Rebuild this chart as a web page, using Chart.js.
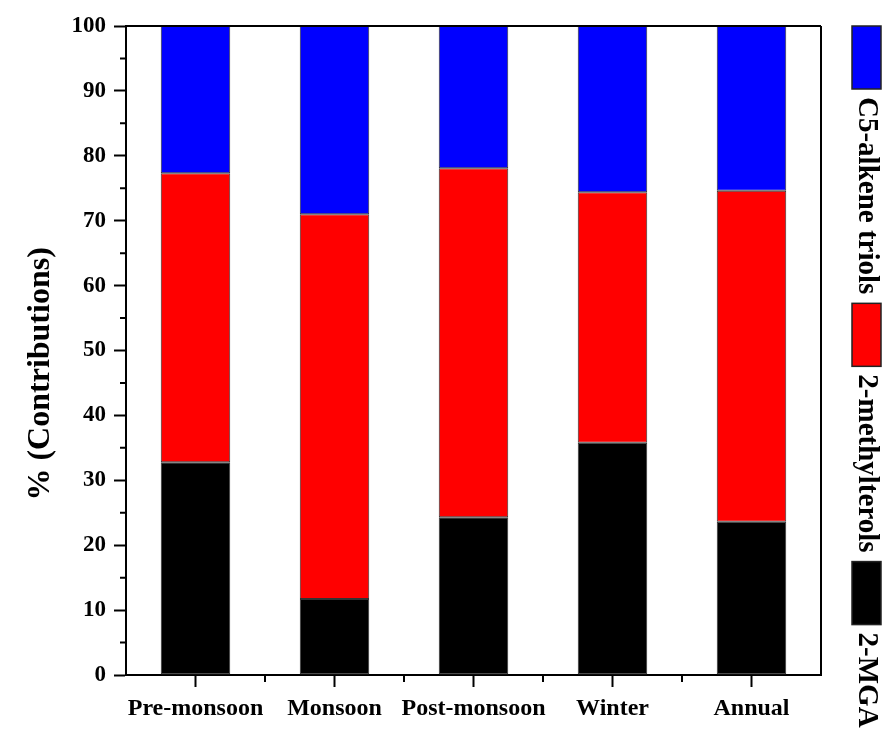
<!DOCTYPE html>
<html>
<head>
<meta charset="utf-8">
<script src="https://cdn.jsdelivr.net/npm/chart.js@4.4.1/dist/chart.umd.min.js"></script>
<style>
  html, body { margin: 0; padding: 0; background: #fff; }
  #wrap { width: 894px; height: 731px; }
</style>
</head>
<body>
<div id="wrap"><canvas id="seasonChart" width="894" height="731"></canvas></div>
<script>
// seasons on the x axis
const seasons = ["Pre-monsoon", "Monsoon", "Post-monsoon", "Winter", "Annual"];

// % contribution of each tracer (stacked bottom -> top)
const mgaValues = [32.8, 11.7, 24.3, 35.8, 23.6];
const methylterolValues = [44.5, 59.3, 53.8, 38.6, 51.0];
const alkeneTriolValues = [22.7, 29.0, 21.9, 25.6, 25.4];

// y tick labels
const yTicks = [0, 10, 20, 30, 40, 50, 60, 70, 80, 90, 100];
const yTitle = "% (Contributions)";

const serif = "'Liberation Serif', 'Times New Roman', serif";

/* ------------------------------------------- helpers plugin ------------------------------------------- */

// minor ticks, top/right frame, y title and a rotated legend on the right side
const framePlugin = {
    id: "frameAndLegend",
    afterDraw (chart) {
        const ctx = chart.ctx;
        const area = chart.chartArea;
        const x = chart.scales.x, y = chart.scales.y;
        ctx.save();
        ctx.strokeStyle = "#000";
        ctx.lineWidth = 2;
        // frame top and right
        ctx.beginPath();
        ctx.moveTo(area.left, area.top); ctx.lineTo(area.right, area.top);
        ctx.moveTo(area.right, area.top); ctx.lineTo(area.right, area.bottom);
        ctx.stroke();
        // minor y ticks at the 5's
        ctx.beginPath();
        for (let v = 5; v < 100; v += 10) {
            const py = y.getPixelForValue(v);
            ctx.moveTo(area.left, py); ctx.lineTo(area.left - 6, py); }
        // minor x ticks between categories
        for (let i = 0; i < seasons.length - 1; i++) {
            const px = (x.getPixelForValue(i) + x.getPixelForValue(i + 1)) / 2;
            ctx.moveTo(px, area.bottom); ctx.lineTo(px, area.bottom + 7); }
        ctx.stroke();

        // y axis title, sits a bit below the middle like the original
        ctx.save();
        ctx.translate(41, y.getPixelForValue(46.4));
        ctx.rotate(-Math.PI / 2);
        ctx.font = "bold 32px " + serif;
        ctx.fillStyle = "#000";
        ctx.textAlign = "center";
        ctx.textBaseline = "middle";
        ctx.fillText(yTitle, 0, 0);
        ctx.restore();

        // legend, top to bottom: last dataset first
        const items = chart.data.datasets.slice().reverse();
        const boxX = 852, boxW = 29, boxH = 63;
        let cy = 26;
        ctx.font = "bold 29px " + serif;
        ctx.textBaseline = "middle";
        ctx.textAlign = "left";
        for (const ds of items) {
            ctx.fillStyle = ds.backgroundColor;
            ctx.fillRect(boxX, cy, boxW, boxH);
            ctx.lineWidth = 1.5;
            ctx.strokeStyle = "#222";
            ctx.strokeRect(boxX, cy, boxW, boxH);
            cy += boxH + 8;
            ctx.save();
            ctx.translate(boxX + boxW / 2, cy);
            ctx.rotate(Math.PI / 2);
            ctx.fillStyle = "#000";
            ctx.fillText(ds.label, 0, 0);
            ctx.restore();
            cy += ctx.measureText(ds.label).width + 9; }
        ctx.restore(); }
};

/* ------------------------------------------- chart ------------------------------------------- */

const seasonChart = new Chart("seasonChart", {
    type: "bar",
    data: {
        labels: seasons,
        datasets: [
            { label: "2-MGA", data: mgaValues, backgroundColor: "#000000" },
            { label: "2-methylterols", data: methylterolValues, backgroundColor: "#ff0000" },
            { label: "C5-alkene triols", data: alkeneTriolValues, backgroundColor: "#0000ff" }
        ]
    },
    options: {
        responsive: false,
        animation: false,
        layout: { padding: { left: 0, right: 73, top: 26, bottom: 0 } },
        datasets: { bar: {
            categoryPercentage: 1.0, barPercentage: 0.5,
            borderWidth: 1, borderColor: "#333", borderSkipped: false } },
        plugins: { legend: { display: false }, tooltip: { enabled: false } },
        scales: {
            x: {
                stacked: true,
                grid: { offset: false, drawOnChartArea: false, drawTicks: true,
                        tickLength: 12, tickWidth: 2, tickColor: "#000" },
                border: { display: true, color: "#000", width: 2 },
                ticks: { color: "#000", padding: 7, maxRotation: 0, autoSkip: false,
                         font: { family: serif, size: 24, weight: "bold" } },
                afterFit (scale) { scale.height = 56; }
            },
            y: {
                stacked: true,
                min: 0, max: 100,
                afterBuildTicks (scale) { scale.ticks = yTicks.map(v => ({ value: v })); },
                grid: { drawOnChartArea: false, drawTicks: true,
                        tickLength: 12, tickWidth: 2, tickColor: "#000" },
                border: { display: true, color: "#000", width: 2 },
                ticks: { color: "#000", padding: 8,
                         font: { family: serif, size: 23, weight: "bold" } },
                afterFit (scale) { scale.width = 126; }
            }
        }
    },
    plugins: [framePlugin]
});
</script>
</body>
</html>
